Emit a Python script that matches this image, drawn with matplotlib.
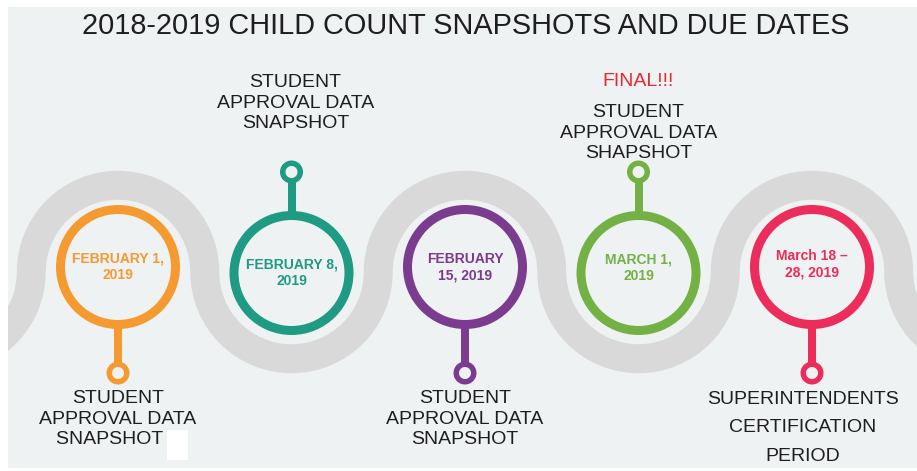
import matplotlib.pyplot as plt
from matplotlib.patches import Wedge, Rectangle

plt.rcParams['font.family'] = ['Liberation Sans', 'DejaVu Sans']

title = '2018-2019 CHILD COUNT SNAPSHOTS AND DUE DATES'
dates = ['FEBRUARY 1,\n2019', 'FEBRUARY 8,\n2019', 'FEBRUARY\n15, 2019',
         'MARCH 1,\n2019', 'March 18 \u2013\n28, 2019']
colors = ['#f59a30', '#1f9a83', '#7b3b8e', '#74b144', '#ec2c5a']
stem_up = [False, True, False, True, False]
labels = ['STUDENT\nAPPROVAL DATA\nSNAPSHOT   ',
          'STUDENT\nAPPROVAL DATA\nSNAPSHOT',
          'STUDENT\nAPPROVAL DATA\nSNAPSHOT',
          'STUDENT\nAPPROVAL DATA\nSHAPSHOT',
          'SUPERINTENDENTS\nCERTIFICATION\nPERIOD']
extra_note = 'FINAL!!!'

W, H = 917, 471
fig = plt.figure(figsize=(W / 100, H / 100), dpi=100)
fig.patch.set_facecolor('white')
ax = fig.add_axes([0, 0, 1, 1])
ax.set_xlim(0, W)
ax.set_ylim(H, 0)
ax.axis('off')

bg = Rectangle((8, 7), W - 8, 461, facecolor='#eff2f3', edgecolor='none', zorder=0)
ax.add_patch(bg)

x0, step = 118, 173.5
road_y, road_r, road_w = 272, 86.75, 29

# grey winding road
for k in range(-1, 7):
    cx = x0 + k * step
    if k % 2 == 0:
        t1, t2 = 180, 360
    else:
        t1, t2 = 0, 180
    w = Wedge((cx, road_y), road_r + road_w / 2, t1, t2, width=road_w,
              facecolor='#d9d9d9', edgecolor='none', zorder=1)
    ax.add_patch(w)
    w.set_clip_path(bg)

for i, d in enumerate(dates):
    cx = x0 + i * step
    c = colors[i]
    cy = 273 if stem_up[i] else 267
    ax.add_patch(Wedge((cx, cy), 62, 0, 360, width=9, facecolor=c,
                       edgecolor='none', zorder=3))
    if stem_up[i]:
        sy = 172
        ax.add_patch(Rectangle((cx - 4, sy + 9), 8, cy - 60 - sy - 9,
                               facecolor=c, edgecolor='none', zorder=2))
    else:
        sy = 373
        ax.add_patch(Rectangle((cx - 4, cy + 60), 8, sy - 9 - cy - 60,
                               facecolor=c, edgecolor='none', zorder=2))
    ax.add_patch(Wedge((cx, sy), 11.5, 0, 360, width=5.5, facecolor=c,
                       edgecolor='none', zorder=3))
    ty = cy - 5 if i == 3 else (cy - 3 if i == 4 else cy)
    ax.text(cx, ty, d, color=c, fontsize=10, fontweight='bold',
            ha='center', va='center', linespacing=1.25, zorder=4)

lab_color = '#1e1e1e'
ax.text(x0, 419, labels[0], fontsize=14, color=lab_color, ha='center',
        va='center', linespacing=1.25)
ax.text(x0 + step + 4, 103, labels[1], fontsize=14, color=lab_color,
        ha='center', va='center', linespacing=1.25)
ax.text(x0 + 2 * step, 419, labels[2], fontsize=14, color=lab_color,
        ha='center', va='center', linespacing=1.25)
ax.text(x0 + 3 * step, 133, labels[3], fontsize=14, color=lab_color,
        ha='center', va='center', linespacing=1.25)
ax.text(x0 + 3 * step, 82, extra_note, fontsize=14, color='#e8282f',
        ha='center', va='center')
ax.text(x0 + 4 * step - 9, 428, labels[4], fontsize=14, color=lab_color,
        ha='center', va='center', linespacing=1.9)

ax.add_patch(Rectangle((167, 430), 21, 30, facecolor='white',
                       edgecolor='none', zorder=5))

ax.text(466, 26, title, fontsize=20.8, color='#1e1e1e', ha='center',
        va='center')

fig.savefig('out.png', dpi=100, facecolor='white')
